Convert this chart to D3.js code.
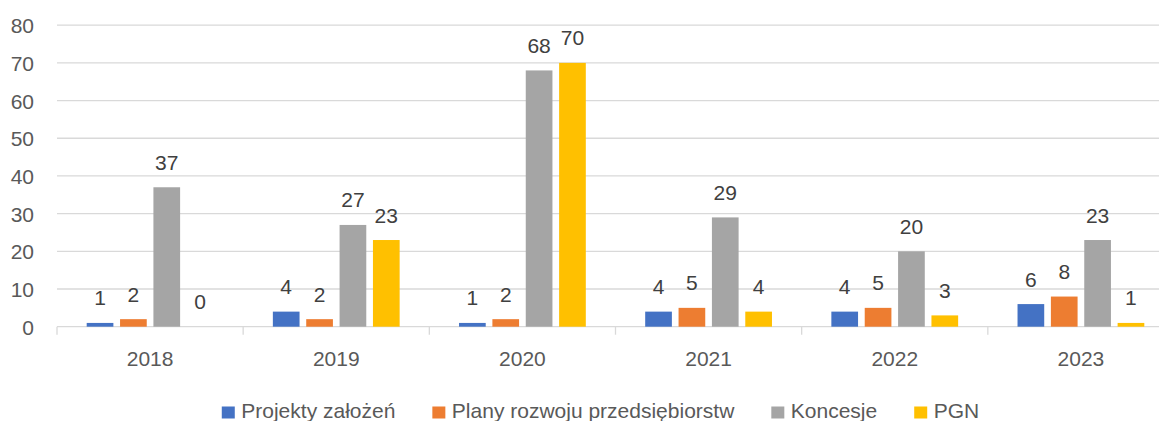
<!DOCTYPE html>
<html>
<head>
<meta charset="utf-8">
<script src="https://cdn.jsdelivr.net/npm/d3@7"></script>
<style>
  html, body { margin: 0; padding: 0; background: #fff; }
  svg { display: block; font-family: "Liberation Sans", Arial, sans-serif; }
</style>
</head>
<body>
<svg id="chart" width="1159" height="421"></svg>
<script>
// Years on the category axis
const years = ["2018", "2019", "2020", "2021", "2022", "2023"];

// Series names and colours
const seriesNames = ["Projekty założeń", "Plany rozwoju przedsiębiorstw", "Koncesje", "PGN"];
const seriesColors = ["#4472C4", "#ED7D31", "#A5A5A5", "#FFC000"];

// Values per series, one entry per year
const projekty = [1, 4, 1, 4, 4, 6];
const plany = [2, 2, 2, 5, 5, 8];
const koncesje = [37, 27, 68, 29, 20, 23];
const pgn = [0, 23, 70, 4, 3, 1];

// Value-axis ticks
const yTicks = [0, 10, 20, 30, 40, 50, 60, 70, 80];

const seriesValues = [projekty, plany, koncesje, pgn];

const svg = d3.select("#chart");
const W = 1159;

const plotLeft = 57, plotRight = 1174;
const plotTop = 25.2, plotBottom = 326.7;

const x0 = d3.scaleBand().domain(years).range([plotLeft, plotRight]).padding(0);
const x1 = d3.scaleBand().domain(d3.range(seriesNames.length))
  .range([0, x0.bandwidth()]).paddingInner(0.2).paddingOuter(0.89);
const y = d3.scaleLinear().domain([0, 80]).range([plotBottom, plotTop]);

const gridColor = "#D9D9D9";

// Horizontal gridlines
svg.append("g").selectAll("line").data(yTicks.filter(t => t > 0)).join("line")
  .attr("x1", plotLeft).attr("x2", plotRight)
  .attr("y1", d => y(d)).attr("y2", d => y(d))
  .attr("stroke", gridColor).attr("stroke-width", 1.3);

// Value axis labels
const yAxis = d3.axisLeft(y).tickValues(yTicks).tickSize(0).tickPadding(0);
const yG = svg.append("g").attr("transform", "translate(34,0)").call(yAxis);
yG.select(".domain").remove();
yG.selectAll("text")
  .attr("font-family", "Liberation Sans, Arial, sans-serif")
  .attr("font-size", 21).attr("fill", "#595959")
  .attr("dy", "0.36em");

// Category axis: baseline, boundary ticks and year labels
const xAxis = d3.axisBottom(x0).tickSize(0).tickPadding(0);
const xG = svg.append("g").attr("transform", `translate(0,${plotBottom})`).call(xAxis);
xG.select(".domain").remove();
xG.selectAll(".tick line").remove();
xG.selectAll("text")
  .attr("font-family", "Liberation Sans, Arial, sans-serif")
  .attr("font-size", 21).attr("fill", "#595959")
  .attr("y", 39.5).attr("dy", 0);

svg.append("line")
  .attr("x1", plotLeft).attr("x2", plotRight)
  .attr("y1", plotBottom).attr("y2", plotBottom)
  .attr("stroke", gridColor).attr("stroke-width", 1.3);

svg.append("g").selectAll("line").data(years.concat(["end"])).join("line")
  .attr("x1", (d, i) => plotLeft + i * x0.step())
  .attr("x2", (d, i) => plotLeft + i * x0.step())
  .attr("y1", plotBottom).attr("y2", plotBottom + 8)
  .attr("stroke", gridColor).attr("stroke-width", 1.3);

// Bars and value labels
const cells = [];
years.forEach((yr, yi) => {
  seriesValues.forEach((vals, si) => {
    cells.push({ year: yr, s: si, v: vals[yi] });
  });
});

const groups = svg.append("g");
groups.selectAll("rect").data(cells).join("rect")
  .attr("x", d => x0(d.year) + x1(d.s))
  .attr("width", x1.bandwidth())
  .attr("y", d => y(d.v))
  .attr("height", d => y(0) - y(d.v))
  .attr("fill", d => seriesColors[d.s]);

groups.selectAll("text").data(cells).join("text")
  .attr("x", d => x0(d.year) + x1(d.s) + x1.bandwidth() / 2)
  .attr("y", d => y(d.v) - 17.5)
  .attr("text-anchor", "middle")
  .attr("font-size", 21).attr("fill", "#404040")
  .text(d => d.v);

// Legend, centred under the chart
const legend = svg.append("g");
const items = legend.selectAll("g").data(seriesNames).join("g");
items.append("rect")
  .attr("width", 13).attr("height", 12)
  .attr("y", 406.5)
  .attr("fill", (d, i) => seriesColors[i]);
items.append("text")
  .attr("x", 19.5).attr("y", 418)
  .attr("font-size", 21).attr("fill", "#595959")
  .text(d => d);

let cursor = 0;
const offsets = [];
items.each(function () {
  offsets.push(cursor);
  const tw = d3.select(this).select("text").node().getComputedTextLength();
  cursor += 19.5 + tw + 37;
});
const totalW = cursor - 37;
const startX = 600.5 - totalW / 2;
items.attr("transform", (d, i) => `translate(${startX + offsets[i]},0)`);
</script>
</body>
</html>
